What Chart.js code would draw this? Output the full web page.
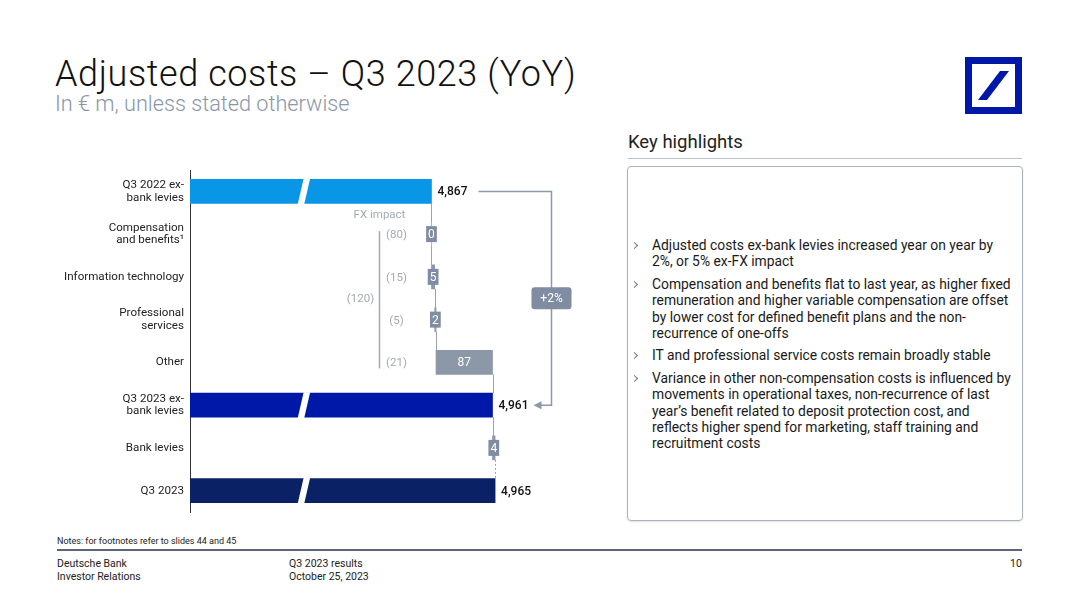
<!DOCTYPE html>
<html>
<head>
<meta charset="utf-8">
<script src="https://cdn.jsdelivr.net/npm/chart.js@4"></script>
<style>
  body { margin: 0; background: #fff; font-family: Roboto, "Noto Sans", sans-serif; color: #1a1a1a; }
  .page { position: relative; width: 1080px; height: 608px; overflow: hidden; }
  .title { position: absolute; left: 55px; top: 53px; font-size: 36px; letter-spacing: 0.6px; font-weight: 300; color: #111; white-space: nowrap; }
  .subtitle { position: absolute; left: 55px; top: 91px; font-size: 21.7px; font-weight: 300; color: #8a96a8; white-space: nowrap; }
  .logo { position: absolute; left: 965px; top: 57px; }
  .kh { position: absolute; left: 628px; top: 131px; font-size: 18.5px; color: #222; }
  .khline { position: absolute; left: 628px; top: 158px; width: 394px; height: 1px; background: #b6bfcb; }
  .box { position: absolute; left: 627px; top: 166px; width: 394px; height: 353px; border: 1px solid #aab3bf; border-radius: 4px; box-shadow: 0 1px 2px rgba(0,0,0,0.12); }
  .bullets { position: absolute; left: 632px; top: 237px; width: 385px; font-size: 13.85px; line-height: 16.4px; color: #1a1a1a; }
  .bullets div { position: relative; padding-left: 20px; margin-bottom: 6px; white-space: nowrap; }
  .bullets div::before { content: ""; position: absolute; left: 0px; top: 6px; width: 4px; height: 4px; border-top: 1px solid #777; border-right: 1px solid #777; transform: rotate(45deg); }
  .chartwrap { position: absolute; left: 40px; top: 160px; width: 570px; height: 360px; }
  .notes { position: absolute; left: 57px; top: 536px; font-size: 9px; color: #222; }
  .fline { position: absolute; left: 57px; top: 549px; width: 965px; height: 2px; background: #5a6577; }
  .foot { position: absolute; top: 557px; font-size: 10.5px; line-height: 13px; color: #222; }
</style>
</head>
<body>
<div class="page">
  <div class="title">Adjusted costs – Q3 2023 (YoY)</div>
  <div class="subtitle">In € m, unless stated otherwise</div>
  <svg class="logo" width="57" height="57" viewBox="0 0 57 57">
    <rect x="0" y="0" width="57" height="57" fill="#0018a8"/>
    <rect x="7" y="7" width="43" height="43" fill="#fff"/>
    <polygon points="35,14 44,14 22,43 13,43" fill="#0018a8"/>
  </svg>

  <div class="chartwrap"><canvas id="waterfall"></canvas></div>

  <div class="kh">Key highlights</div>
  <div class="khline"></div>
  <div class="box"></div>
  <div class="bullets">
    <div>Adjusted costs ex-bank levies increased year on year by<br>2%, or 5% ex-FX impact</div>
    <div>Compensation and benefits flat to last year, as higher fixed<br>remuneration and higher variable compensation are offset<br>by lower cost for defined benefit plans and the non-<br>recurrence of one-offs</div>
    <div>IT and professional service costs remain broadly stable</div>
    <div>Variance in other non-compensation costs is influenced by<br>movements in operational taxes, non-recurrence of last<br>year’s benefit related to deposit protection cost, and<br>reflects higher spend for marketing, staff training and<br>recruitment costs</div>
  </div>

  <div class="notes">Notes: for footnotes refer to slides 44 and 45</div>
  <div class="fline"></div>
  <div class="foot" style="left:57px">Deutsche Bank<br>Investor Relations</div>
  <div class="foot" style="left:289px">Q3 2023 results<br>October 25, 2023</div>
  <div class="foot" style="left:1010px">10</div>
</div>

<script>
'use strict';

// Data
const categories = [
  ['Q3 2022 ex-', 'bank levies'],
  ['Compensation', 'and benefits¹'],
  'Information technology',
  ['Professional', 'services'],
  'Other',
  ['Q3 2023 ex-', 'bank levies'],
  'Bank levies',
  'Q3 2023'
];
const barValues = [4867, 0, 5, 2, 87, 4961, 4, 4965];
const barKinds = ['total', 'delta', 'delta', 'delta', 'delta', 'total', 'delta', 'total'];
const fxImpact = [null, '(80)', '(15)', '(5)', '(21)', null, null, null];
const fxTotal = '(120)';
const yoyLabel = '+2%';

const axisMin = 4495;
const axisMax = 5142;

const totalColors = ['#0a96e6', '#0018a8', '#0a2265'];
const deltaColor = '#8c97a7';
const boxColor = '#7f8ca1';

// build floating ranges for the waterfall
let running = 0;
let totalIdx = 0;
const ranges = [];
const colors = [];
barValues.forEach((v, i) => {
  if (barKinds[i] === 'total') {
    ranges.push([axisMin, v]);
    colors.push(totalColors[totalIdx++]);
    running = v;
  } else {
    ranges.push([running, running + v]);
    colors.push(deltaColor);
    running += v;
  }
});

const breakValue = 4667;

const waterfallExtras = {
  id: 'waterfallExtras',
  beforeDatasetsDraw(chart) {
    const ctx = chart.ctx;
    const meta = chart.getDatasetMeta(0);
    const x = chart.scales.x;
    ctx.save();
    ctx.strokeStyle = '#9aa3b0';
    ctx.lineWidth = 1;
    // connectors
    for (let i = 0; i < ranges.length - 1; i++) {
      const end = ranges[i][1];
      const px = Math.round(x.getPixelForValue(end)) + 0.5;
      const b1 = meta.data[i];
      const b2 = meta.data[i + 1];
      ctx.setLineDash(i === ranges.length - 2 ? [2, 2] : []);
      ctx.beginPath();
      ctx.moveTo(px, b1.y + b1.height / 2);
      ctx.lineTo(px, b2.y - b2.height / 2);
      ctx.stroke();
    }
    ctx.restore();
  },
  afterDatasetsDraw(chart) {
    const ctx = chart.ctx;
    const meta = chart.getDatasetMeta(0);
    const x = chart.scales.x;
    ctx.save();

    // axis breaks
    const bx = x.getPixelForValue(breakValue);
    meta.data.forEach((bar, i) => {
      if (barKinds[i] !== 'total') return;
      const top = bar.y - bar.height / 2 - 1;
      const bot = bar.y + bar.height / 2 + 1;
      ctx.fillStyle = '#fff';
      ctx.beginPath();
      ctx.moveTo(bx + 2, top);
      ctx.lineTo(bx + 8.5, top);
      ctx.lineTo(bx + 2.5, bot);
      ctx.lineTo(bx - 4, bot);
      ctx.closePath();
      ctx.fill();
    });

    // value labels
    ctx.textBaseline = 'middle';
    meta.data.forEach((bar, i) => {
      const v = barValues[i];
      const txt = v.toLocaleString('en-US');
      if (barKinds[i] === 'total') {
        ctx.font = '500 12px Roboto';
        ctx.fillStyle = '#111';
        ctx.textAlign = 'left';
        ctx.fillText(txt, bar.x + 6, bar.y + 1);
      } else {
        const left = Math.min(bar.x, bar.base);
        const w = Math.abs(bar.x - bar.base);
        ctx.font = '12px Roboto';
        if (w > 30) {
          ctx.fillStyle = '#fff';
          ctx.textAlign = 'center';
          ctx.fillText(txt, left + w / 2, bar.y + 1);
        } else {
          const tw = ctx.measureText(txt).width + 4;
          const cx = left + w / 2;
          ctx.fillStyle = boxColor;
          ctx.fillRect(cx - tw / 2, bar.y - 8, tw, 16);
          ctx.fillStyle = '#fff';
          ctx.textAlign = 'center';
          ctx.fillText(txt, cx, bar.y + 1);
        }
      }
    });

    // FX impact annotation
    const ref = x.getPixelForValue(barValues[0]);
    const y = chart.scales.y;
    ctx.fillStyle = '#a2aab6';
    ctx.font = '11.5px Roboto';
    ctx.textAlign = 'center';
    ctx.fillText('FX impact', ref - 52, y.getPixelForValue(0) + 24);
    fxImpact.forEach((t, i) => {
      if (t) ctx.fillText(t, ref - 35, y.getPixelForValue(i) + 1);
    });
    ctx.fillText(fxTotal, ref - 71, (y.getPixelForValue(2) + y.getPixelForValue(3)) / 2 + 1);
    ctx.strokeStyle = '#a2aab6';
    ctx.lineWidth = 1.5;
    ctx.beginPath();
    ctx.moveTo(ref - 52, y.getPixelForValue(1) - 3);
    ctx.lineTo(ref - 52, y.getPixelForValue(4) + 6);
    ctx.stroke();

    // YoY bracket
    const y0 = y.getPixelForValue(0);
    const y5 = y.getPixelForValue(5);
    const bxr = x.getPixelForValue(barValues[5]) + 59;
    ctx.strokeStyle = '#8c97a7';
    ctx.lineWidth = 1.5;
    ctx.beginPath();
    ctx.moveTo(ref + 47, y0);
    ctx.lineTo(bxr, y0);
    ctx.lineTo(bxr, y5);
    ctx.lineTo(bxr - 12, y5);
    ctx.stroke();
    ctx.fillStyle = '#8c97a7';
    ctx.beginPath();
    ctx.moveTo(bxr - 18, y5);
    ctx.lineTo(bxr - 10, y5 - 4);
    ctx.lineTo(bxr - 10, y5 + 4);
    ctx.closePath();
    ctx.fill();
    const my = (y0 + y5) / 2;
    ctx.fillStyle = boxColor;
    ctx.beginPath();
    ctx.roundRect(bxr - 20, my - 11, 40, 22, 3);
    ctx.fill();
    ctx.fillStyle = '#fff';
    ctx.font = '12px Roboto';
    ctx.fillText(yoyLabel, bxr, my + 1);
    ctx.restore();
  }
};

new Chart(document.getElementById('waterfall'), {
  type: 'bar',
  data: {
    labels: categories,
    datasets: [{
      data: ranges,
      backgroundColor: colors,
      borderWidth: 0,
      borderSkipped: false,
      barThickness: 24,
      minBarLength: 0
    }]
  },
  options: {
    indexAxis: 'y',
    responsive: true,
    maintainAspectRatio: false,
    animation: false,
    layout: { padding: { top: 10, bottom: 8 } },
    plugins: {
      legend: { display: false },
      tooltip: { enabled: false }
    },
    scales: {
      x: {
        display: false,
        min: axisMin,
        max: axisMax
      },
      y: {
        grid: { display: false, drawTicks: false },
        border: { display: true, color: '#333', width: 1 },
        ticks: {
          color: '#222',
          padding: 6,
          font: { family: 'Roboto', size: 11.6, lineHeight: 1.1 }
        },
        afterFit(scale) {
          scale.width = 150;
          scale.paddingTop = 0;
          scale.paddingBottom = 0;
        }
      }
    }
  },
  plugins: [waterfallExtras]
});
</script>
</body>
</html>
